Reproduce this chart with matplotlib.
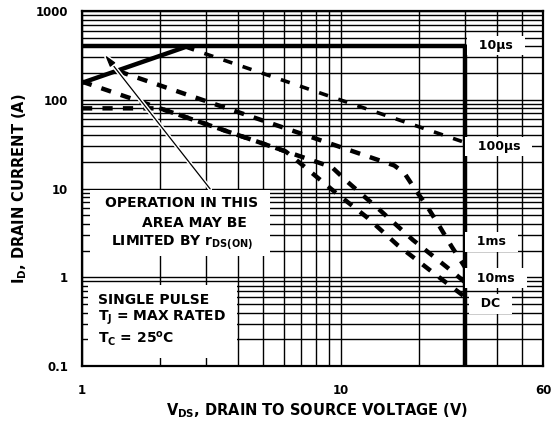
import numpy as np
import matplotlib
matplotlib.use("Agg")
import matplotlib.pyplot as plt
import matplotlib.ticker as mticker
import matplotlib.patheffects as pe

# values (V_DS in volts, I_D in amps)
rds_v = [1.0, 2.55]
rds_i = [155, 400]
limit_v = [1.0, 30.0, 30.0]
limit_i = [400, 400, 0.1]

v_100us = [2.5, 30.0]
i_100us = [394, 33]

v_1ms = [1.38, 16.0, 17.5, 19.0, 21.5, 24.0, 26.7, 30.0]
i_1ms = [210, 18.2, 15.0, 10.4, 6.2, 3.7, 2.2, 1.3]

v_10ms = [1.0, 9.2, 10.6, 14.1, 18.9, 25.8, 30.0]
i_10ms = [160, 17.4, 11.8, 5.7, 2.63, 1.27, 0.88]

v_dc = [1.0, 2.0, 6.1, 6.93, 9.46, 12.6, 16.5, 22.4, 30.0]
i_dc = [80, 80, 26.2, 19.4, 9.1, 4.7, 2.3, 1.15, 0.6]

curve_labels = ["10\u00b5s", "100\u00b5s", "1ms", "10ms", "DC"]
label_v = [39.5, 40.5, 38.0, 39.5, 37.5]
label_i = [410, 29.5, 2.5, 0.98, 0.5]

x_ticks = [1, 10, 60]
x_ticklabels = ["1", "10", "60"]
y_ticks = [0.1, 1, 10, 100, 1000]
y_ticklabels = ["0.1", "1", "10", "100", "1000"]

plt.rcParams['font.family'] = ['DejaVu Sans']
plt.rcParams['font.weight'] = 'bold'
plt.rcParams['axes.labelweight'] = 'bold'
plt.rcParams['mathtext.fontset'] = 'custom'
plt.rcParams['mathtext.rm'] = 'DejaVu Sans:bold'
plt.rcParams['mathtext.bf'] = 'DejaVu Sans:bold'

fig = plt.figure(figsize=(5.52, 4.22), dpi=100)
ax = fig.add_axes([82 / 552, 1 - 366 / 422, 461 / 552, 355 / 422])
ax.set_xscale('log')
ax.set_yscale('log')
ax.set_xlim(1, 60)
ax.set_ylim(0.1, 1000)

ax.xaxis.set_major_locator(mticker.FixedLocator(x_ticks))
ax.xaxis.set_major_formatter(mticker.FixedFormatter(x_ticklabels))
ax.xaxis.set_minor_locator(mticker.LogLocator(base=10, subs=np.arange(2, 10)))
ax.xaxis.set_minor_formatter(mticker.NullFormatter())
ax.yaxis.set_major_locator(mticker.FixedLocator(y_ticks))
ax.yaxis.set_major_formatter(mticker.FixedFormatter(y_ticklabels))
ax.yaxis.set_minor_locator(mticker.LogLocator(base=10, subs=np.arange(2, 10)))
ax.yaxis.set_minor_formatter(mticker.NullFormatter())

ax.tick_params(which='both', length=0)
ax.tick_params(axis='x', pad=13, labelsize=8.5)
ax.tick_params(axis='y', pad=10, labelsize=8.5)
ax.set_axisbelow(True)
ax.grid(True, which='both', color='black', lw=1.0)
for s in ax.spines.values():
    s.set_linewidth(1.6)

# limit lines and curves
ax.plot(rds_v, rds_i, color='black', lw=3.2, solid_capstyle='butt', zorder=3)
ax.plot(limit_v, limit_i, color='black', lw=3.2, solid_capstyle='butt', zorder=3)
ax.plot(v_100us, i_100us, color='black', lw=2.6, ls=(0, (2.6, 3.0)), dash_capstyle='butt', zorder=3)
for v, i in [(v_1ms, i_1ms), (v_10ms, i_10ms), (v_dc, i_dc)]:
    ax.plot(v, i, color='black', lw=3.2, ls=(0, (2.3, 2.3)), dash_capstyle='butt', zorder=3)

for lab, xv, yv in zip(curve_labels, label_v, label_i):
    ax.text(xv, yv, "  " + lab + "  ", ha='center', va='center', fontsize=9,
            bbox=dict(boxstyle='square,pad=0.25', fc='white', ec='none'), zorder=5)

# annotation boxes
ax.add_patch(plt.Rectangle((0.017, 0.31), 0.391, 0.186, transform=ax.transAxes,
                           fc='white', ec='none', zorder=4))
ax.text(0.217, 0.459, "OPERATION IN THIS", transform=ax.transAxes, ha='center', va='center',
        fontsize=10, zorder=5)
ax.text(0.243, 0.403, "AREA MAY BE", transform=ax.transAxes, ha='center', va='center',
        fontsize=10, zorder=5)
ax.text(0.217, 0.349, r"LIMITED BY r$_{\mathbf{DS(ON)}}$", transform=ax.transAxes, ha='center',
        va='center', fontsize=10, zorder=5)

ax.add_patch(plt.Rectangle((0.013, 0.022), 0.323, 0.206, transform=ax.transAxes,
                           fc='white', ec='none', zorder=4))
ax.text(0.034, 0.186, "SINGLE PULSE", transform=ax.transAxes, ha='left', va='center',
        fontsize=10, zorder=5)
ax.text(0.034, 0.135, r"T$_\mathbf{J}$ = MAX RATED", transform=ax.transAxes, ha='left',
        va='center', fontsize=10, zorder=5)
ax.text(0.034, 0.078, r"T$_\mathbf{C}$ = 25$^\mathbf{o}$C", transform=ax.transAxes, ha='left',
        va='center', fontsize=10, zorder=5)

ax.annotate('', xy=(1.227, 319), xytext=(3.12, 9.9),
            arrowprops=dict(arrowstyle='-|>,head_length=0.7,head_width=0.2', lw=0.9,
                            color='black', shrinkA=0, shrinkB=0,
                            path_effects=[pe.withStroke(linewidth=3, foreground='white')]),
            zorder=4)

ax.set_xlabel(r"V$_\mathbf{DS}$, DRAIN TO SOURCE VOLTAGE (V)", fontsize=10.5, fontweight='bold')
ax.set_ylabel(r"I$_\mathbf{D}$, DRAIN CURRENT (A)", fontsize=10.5, fontweight='bold')
ax.xaxis.set_label_coords(0.51, -0.125)
ax.xaxis.label.set_va('center')
ax.yaxis.set_label_coords(-0.135, 0.5)
ax.yaxis.label.set_va('center')

fig.savefig("out.png", dpi=100)
